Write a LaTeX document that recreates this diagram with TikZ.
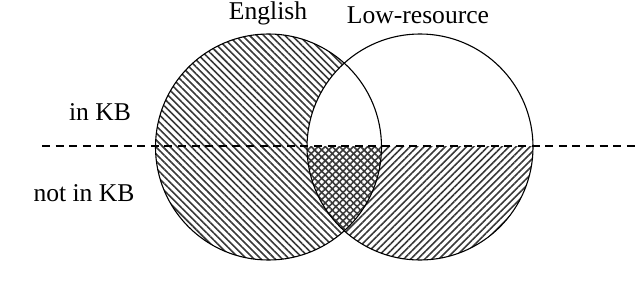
\documentclass[tikz,border=0pt]{standalone}
\usepackage{fontspec}
\setmainfont{Liberation Serif}
\usepackage{xcolor}
\definecolor{cHatch}{HTML}{383838}
\usetikzlibrary{patterns.meta,backgrounds}
\tikzset{
  venn-set/.style={draw,line width=0.55pt,circle,minimum size=113pt,inner sep=0pt},
  set-label/.style={font=\fontsize{12.8}{15}\selectfont,anchor=base},
  hatch-en/.style={pattern={Lines[angle=-45,distance=2.5pt,line width=0.8pt]},
    pattern color=cHatch},
  hatch-lr/.style={pattern={Lines[angle=45,distance=2.5pt,line width=0.8pt]},
    pattern color=cHatch},
  kb-line/.style={dashed,dash pattern=on 4pt off 2.8pt,line width=1.1pt},
}

\begin{document}
\begin{tikzpicture}[x=0.5pt,y=0.5pt]
  \useasboundingbox (0,0) rectangle (640,295);
  \node[venn-set] (en) at (268.5,148) {};
  \node[venn-set] (lr) at (420,148) {};
  \node[set-label] (en-label) at (268,275) {English};
  \node[set-label] (lr-label) at (418,271) {Low-resource};
  \node[set-label] (in-kb) at (100,175) {in KB};
  \node[set-label] (not-kb) at (84,94) {not in KB};
  \coordinate (kb-start) at (42,149);
  \coordinate (kb-end) at (640,149);
  \draw[kb-line] (kb-start) -- (kb-end);
  % hatching under the outlines
  \begin{scope}[on background layer]
    \fill[hatch-en] (en.center) circle[radius=113];
    \begin{scope}
      \clip (0,149) rectangle (640,295);
      \fill[white] (lr.center) circle[radius=113];
    \end{scope}
    \begin{scope}
      \clip (0,0) rectangle (640,149);
      \fill[hatch-lr] (lr.center) circle[radius=113];
    \end{scope}
  \end{scope}
\end{tikzpicture}
\end{document}
